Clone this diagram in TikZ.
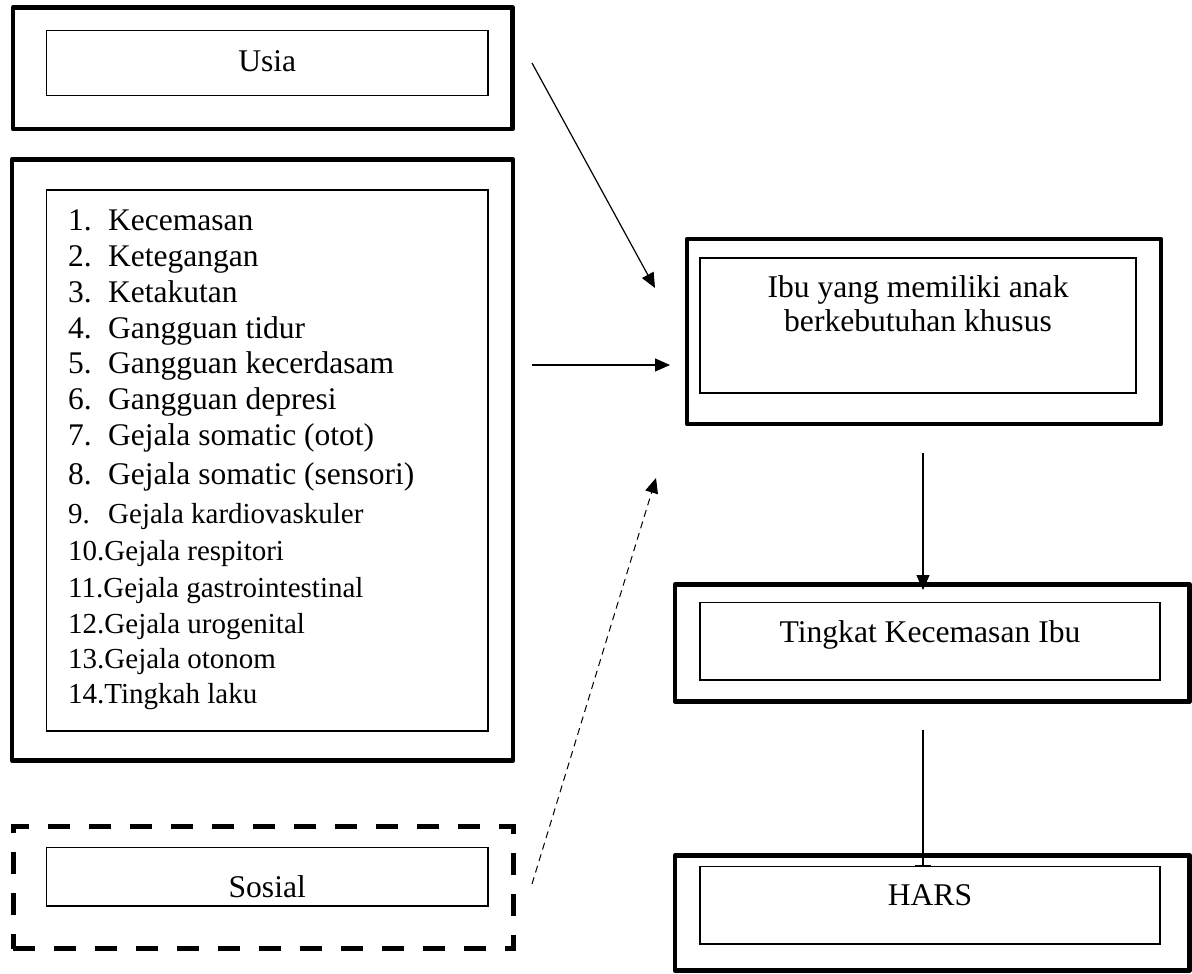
\documentclass[tikz,border=0pt]{standalone}
\usepackage{fontspec}
\setmainfont{Liberation Serif}
\usetikzlibrary{arrows.meta}
\begin{document}
\begin{tikzpicture}[x=1pt,y=-1pt,
  outerbox/.style={draw, line width=4.8pt, line join=round, inner sep=0pt},
  dashbox/.style={draw, line width=5pt, dash pattern=on 22pt off 19pt, inner sep=0pt},
  innerbox/.style={draw, line width=1.2pt, fill=white, inner sep=0pt},
  lbl/.style={anchor=base, inner sep=0pt, font=\fontsize{31.6}{36}\selectfont},
  itembig/.style={anchor=base west, inner sep=0pt, font=\fontsize{31.5}{36}\selectfont},
  itemsmall/.style={anchor=base west, inner sep=0pt, font=\fontsize{29}{36}\selectfont},
  conn/.style={line width=1.2pt, -{Triangle[length=15pt,width=13pt]}},
  dconn/.style={line width=1pt, dash pattern=on 7pt off 5pt, -{Triangle[length=15pt,width=13pt]}}
]
\useasboundingbox (0,0) rectangle (1192,974);

% left column
\node[outerbox, minimum width=499.5pt, minimum height=121.3pt] (usiaO) at (262.75,68.35) {};
\node[innerbox, minimum width=441.5pt, minimum height=65pt] (usiaI) at (267.25,62.85) {};
\node[lbl] (usiaT) at (267.25,71.3) {Usia};

\node[outerbox, minimum width=501pt, minimum height=601pt] (listO) at (262.5,460) {};
\node[innerbox, minimum width=441.5pt, minimum height=541pt] (listI) at (267.25,460.5) {};

\node[itembig] (n1) at (68,230) {1.};  \node[itembig] (t1) at (108,230) {Kecemasan};
\node[itembig] (n2) at (68,266.5) {2.};  \node[itembig] (t2) at (108,266.5) {Ketegangan};
\node[itembig] (n3) at (68,302) {3.};  \node[itembig] (t3) at (108,302) {Ketakutan};
\node[itembig] (n4) at (68,338) {4.};  \node[itembig] (t4) at (108,338) {Gangguan tidur};
\node[itembig] (n5) at (68,373.5) {5.};  \node[itembig] (t5) at (108,373.5) {Gangguan kecerdasam};
\node[itembig] (n6) at (68,409) {6.};  \node[itembig] (t6) at (108,409) {Gangguan depresi};
\node[itembig] (n7) at (68,445) {7.};  \node[itembig] (t7) at (108,445) {Gejala somatic (otot)};
\node[itembig] (n8) at (68,484) {8.};  \node[itembig] (t8) at (108,484) {Gejala somatic (sensori)};
\node[itemsmall] (n9) at (68,523) {9.};  \node[itemsmall] (t9) at (108,523) {Gejala kardiovaskuler};
\node[itemsmall] (t10) at (68,560) {10.Gejala respitori};
\node[itemsmall] (t11) at (68,597) {11.Gejala gastrointestinal};
\node[itemsmall] (t12) at (68,633) {12.Gejala urogenital};
\node[itemsmall] (t13) at (68,668) {13.Gejala otonom};
\node[itemsmall] (t14) at (68,703) {14.Tingkah laku};

\node[dashbox, minimum width=500pt, minimum height=122.5pt] (sosO) at (263,887.25) {};
\node[innerbox, minimum width=441.5pt, minimum height=58.5pt] (sosI) at (267.25,876.75) {};
\node[lbl] (sosT) at (267.25,897.5) {Sosial};

% right column
\node[outerbox, minimum width=474pt, minimum height=185pt] (ibuO) at (924,331.5) {};
\node[innerbox, minimum width=436pt, minimum height=135pt] (ibuI) at (918,325.5) {};
\node[lbl] (ibuT1) at (918,297) {Ibu yang memiliki anak};
\node[lbl] (ibuT2) at (918,331) {berkebutuhan khusus};

\node[outerbox, minimum width=514.5pt, minimum height=117pt] (tinO) at (932.25,643) {};
\node[innerbox, minimum width=460pt, minimum height=77.3pt] (tinI) at (930,641.35) {};
\node[lbl] (tinT) at (930,642) {Tingkat Kecemasan Ibu};

\node[outerbox, minimum width=514.5pt, minimum height=115pt] (harO) at (932.25,913) {};
\node[innerbox, minimum width=460pt, minimum height=77.3pt] (harI) at (930,905.35) {};
\node[lbl] (harT) at (930,905) {HARS};

% connector end points
\coordinate (usiaA) at (532,63);
\coordinate (usiaB) at (655,288);
\coordinate (listA) at (532,365);
\coordinate (listB) at (670,365);
\coordinate (sosA) at (532,884);
\coordinate (sosB) at (656,478);
\coordinate (ibuA) at (923,453);
\coordinate (ibuB) at (923,590);
\coordinate (tinA) at (923,730);
\coordinate (tinB) at (923,866);

\draw[conn] (usiaA) -- (usiaB);
\draw[conn] (listA) -- (listB);
\draw[dconn] (sosA) -- (sosB);
\draw[conn] (ibuA) -- (ibuB);
\draw[line width=1.2pt, -{Bar[width=16pt,line width=1.5pt]}] (tinA) -- (tinB);
\end{tikzpicture}
\end{document}
